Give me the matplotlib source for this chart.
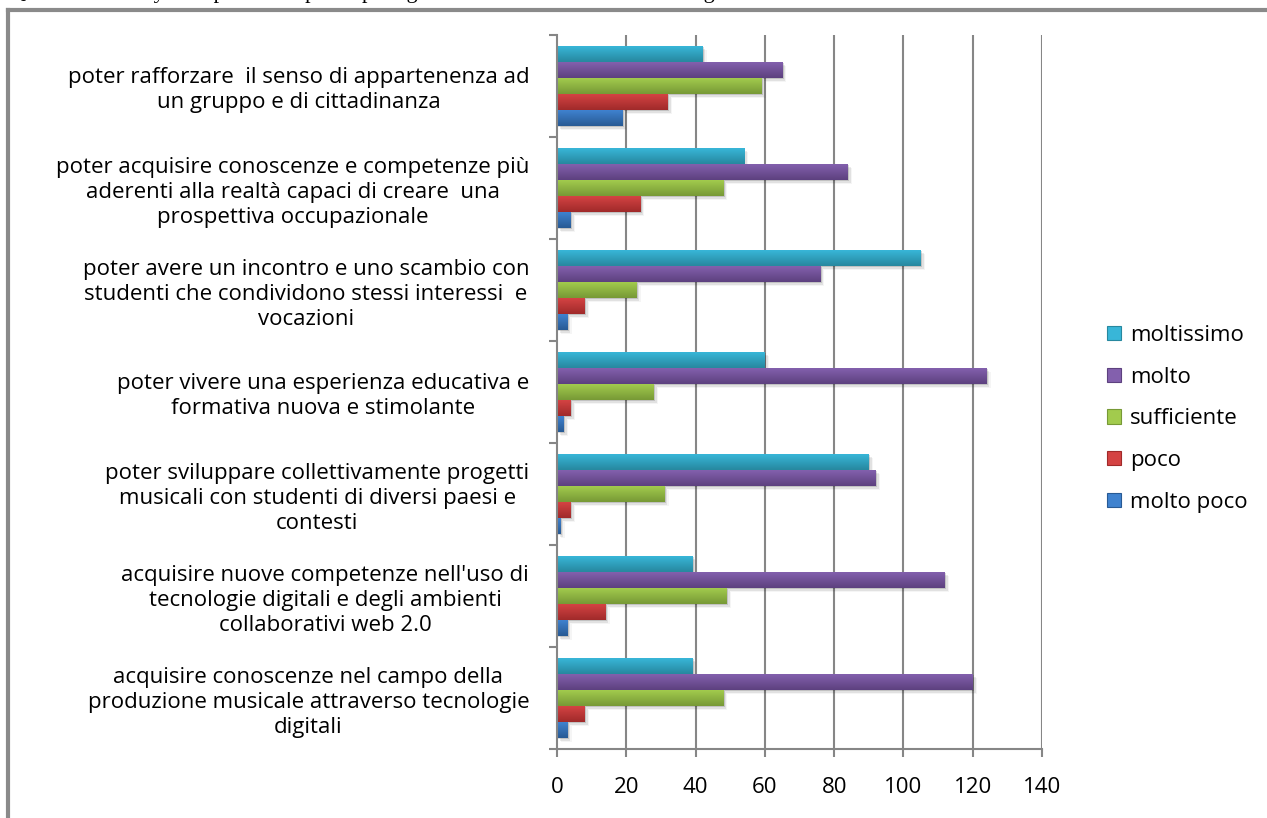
import numpy as np
import matplotlib
matplotlib.use("Agg")
import matplotlib.pyplot as plt
from matplotlib.colors import LinearSegmentedColormap
from matplotlib.patches import Rectangle, Patch
from matplotlib.lines import Line2D
from matplotlib import transforms

# Categories listed bottom to top (as the axis stacks them)
categories = [
    "acquisire conoscenze nel campo della\nproduzione musicale attraverso tecnologie\ndigitali",
    "acquisire nuove competenze nell'uso di\ntecnologie digitali e degli ambienti\ncollaborativi web 2.0",
    "poter sviluppare collettivamente progetti\nmusicali con studenti di diversi paesi e\ncontesti",
    "poter vivere una esperienza educativa e\nformativa nuova e stimolante",
    "poter avere un incontro e uno scambio con\nstudenti che condividono stessi interessi  e\nvocazioni",
    "poter acquisire conoscenze e competenze più\naderenti alla realtà capaci di creare  una\nprospettiva occupazionale",
    "poter rafforzare  il senso di appartenenza ad\nun gruppo e di cittadinanza",
]

# Series in drawing order (bottom bar of each group first)
series_names = ["molto poco", "poco", "sufficiente", "molto", "moltissimo"]
molto_poco = [3, 3, 1, 2, 3, 4, 19]
poco = [8, 14, 4, 4, 8, 24, 32]
sufficiente = [48, 49, 31, 28, 23, 48, 59]
molto = [120, 112, 92, 124, 76, 84, 65]
moltissimo = [39, 39, 90, 60, 105, 54, 42]
series_values = [molto_poco, poco, sufficiente, molto, moltissimo]

x_ticks = [0, 20, 40, 60, 80, 100, 120, 140]

# light (top) and dark (bottom) shade of each series
shades = {
    "molto poco": ("#3f82cf", "#285a94"),
    "poco": ("#d44343", "#a02a2a"),
    "sufficiente": ("#a2cb4d", "#779936"),
    "molto": ("#8360ad", "#5d417f"),
    "moltissimo": ("#38b6d8", "#27889f"),
}

W, H = 1267, 818
fig = plt.figure(figsize=(W / 100, H / 100), dpi=100)
fig.patch.set_facecolor("white")

label_font = "Open Sans"
label_size = 16

ax = fig.add_axes([557 / W, 1 - 749 / H, (1042 - 557) / W, (749 - 35) / H])
ax.set_xlim(0, 140)
ax.set_ylim(0, len(categories))

n_series = len(series_names)
group = 0.784
bar_h = group / n_series

for j, (name, vals) in enumerate(zip(series_names, series_values)):
    light, dark = shades[name]
    cmap = LinearSegmentedColormap.from_list(name, [light, dark])
    grad = np.linspace(0, 1, 64).reshape(-1, 1)
    for i, v in enumerate(vals):
        y0 = i + 0.5 - group / 2 + j * bar_h
        y1 = y0 + bar_h
        # soft drop shadow
        for k, a in zip((2, 4, 6), (0.14, 0.08, 0.04)):
            tr = transforms.offset_copy(ax.transData, fig=fig, x=k * 0.7, y=-k * 0.7, units="dots")
            ax.add_patch(Rectangle((0, y0), v, bar_h, transform=tr,
                                   facecolor="#000000", alpha=a, edgecolor="none", zorder=1))
        ax.imshow(grad, extent=[0, v, y0, y1], aspect="auto", cmap=cmap,
                  origin="upper", zorder=2, interpolation="bilinear")

ax.set_xlim(0, 140)
ax.set_ylim(0, len(categories))

# vertical gridlines
for t in x_ticks[1:]:
    ax.axvline(t, color="#868686", lw=1.5, zorder=0.5)

for s in ["top", "right"]:
    ax.spines[s].set_visible(False)
for s in ["left", "bottom"]:
    ax.spines[s].set_color("#868686")
    ax.spines[s].set_linewidth(1.5)

ax.set_xticks(x_ticks)
ax.set_xticklabels([str(t) for t in x_ticks], fontfamily=label_font, fontsize=label_size)
ax.tick_params(axis="x", direction="out", length=6, width=1.5, color="#868686", pad=14)

# category separators on the left axis
ax.set_yticks(np.arange(0, len(categories) + 1), minor=False)
ax.set_yticklabels([])
ax.tick_params(axis="y", which="major", direction="out", length=6, width=1.5, color="#868686")
ax.set_yticks(np.arange(len(categories)) + 0.5, minor=True)
ax.set_yticklabels(categories, minor=True, fontfamily=label_font, fontsize=label_size,
                   multialignment="center", linespacing=1.24)
ax.tick_params(axis="y", which="minor", length=0, pad=20)

# legend
handles = [Patch(facecolor=shades[n][0], edgecolor=shades[n][1], linewidth=0.8)
           for n in reversed(series_names)]
leg = fig.legend(handles, list(reversed(series_names)), loc="upper left",
                 bbox_to_anchor=(1087 / W, 1 - 305 / H), frameon=False,
                 prop={"family": label_font, "size": label_size}, handlelength=0.62,
                 handleheight=0.62, handletextpad=0.42, labelspacing=0.93)

# outer chart frame
frame_kw = dict(color="#8a8a8a", lw=3, transform=fig.transFigure)
fig.add_artist(Line2D([8 / W, 8 / W], [0, 1 - 10 / H], **frame_kw))
fig.add_artist(Line2D([8 / W, 1], [1 - 10 / H, 1 - 10 / H], **frame_kw))

# question heading sitting above the frame
fig.text(10 / W, 1 + 2 / H, "Q8.5 - What do you expect from participating in the international music setting?",
         fontfamily="Liberation Serif", fontsize=16, va="baseline", ha="left")

fig.savefig("out.png", dpi=100, facecolor="white")
